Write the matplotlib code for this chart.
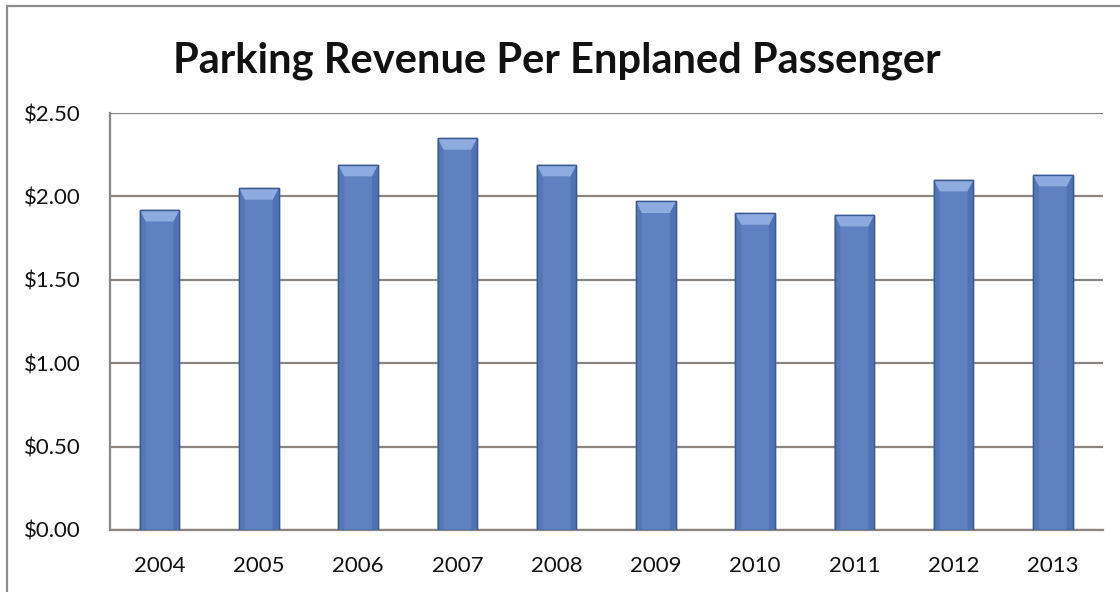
import matplotlib.pyplot as plt
from matplotlib.patches import Polygon, Rectangle
from matplotlib.ticker import FuncFormatter

years = ["2004", "2005", "2006", "2007", "2008", "2009", "2010", "2011", "2012", "2013"]
revenue = [1.92, 2.05, 2.19, 2.35, 2.19, 1.97, 1.90, 1.89, 2.10, 2.13]

plt.rcParams['font.family'] = ['Lato', 'DejaVu Sans']

fig = plt.figure(figsize=(11.2, 5.92), dpi=100)
fig.patch.set_facecolor('white')

# outer chart frame (right and bottom edges run off the canvas)
fig.patches.append(Rectangle((7 / 1120, -0.05), 1.2, 1.05 - 6 / 592,
                             transform=fig.transFigure, fill=False,
                             edgecolor='#8c8c8c', linewidth=1.6))

ax = fig.add_axes([110 / 1120, 62 / 592, 992.5 / 1120, 417 / 592])
x = list(range(len(years)))
bar_w = 0.40
ax.bar(x, revenue, width=bar_w, color='#5f81c1', edgecolor='#3c5a92',
       linewidth=1.0, zorder=3)

# bevelled highlight on the top of each bar
cap_h = 0.07
inset = 0.06
for xi, v in zip(x, revenue):
    l, r = xi - bar_w / 2, xi + bar_w / 2
    ax.add_patch(Polygon([(l, v), (l + inset, v - cap_h), (l + inset, 0), (l, 0)],
                         closed=True, facecolor='#5577b7', edgecolor='none', zorder=4))
    ax.add_patch(Polygon([(r, v), (r - inset, v - cap_h), (r - inset, 0), (r, 0)],
                         closed=True, facecolor='#5172b2', edgecolor='none', zorder=4))
    ax.add_patch(Polygon([(l, v), (r, v), (r - inset, v - cap_h), (l + inset, v - cap_h)],
                         closed=True, facecolor='#8eabdf', edgecolor='none', zorder=4))
    ax.add_patch(Rectangle((l, 0), bar_w, v, fill=False, edgecolor='#3c5a92',
                           linewidth=1.0, zorder=5))

ax.set_xlim(-0.5, len(years) - 0.5)
ax.set_ylim(0, 2.5)
ax.set_yticks([0, 0.5, 1.0, 1.5, 2.0, 2.5])
ax.yaxis.set_major_formatter(FuncFormatter(lambda v, p: f"${v:.2f}"))
ax.set_xticks(x)
ax.set_xticklabels(years)
ax.grid(axis='y', color='#8a8580', linewidth=1.6, zorder=1)
ax.tick_params(axis='both', length=0, labelsize=16, colors='#111111')
ax.tick_params(axis='x', pad=19)
ax.tick_params(axis='y', pad=21)

for side in ['top', 'right']:
    ax.spines[side].set_visible(False)
ax.spines['left'].set_color('#8a8580')
ax.spines['left'].set_linewidth(1.6)
ax.spines['bottom'].set_color('#8a8580')
ax.spines['bottom'].set_linewidth(1.6)

fig.text(0.497, 0.897, "Parking Revenue Per Enplaned Passenger", ha='center', va='center',
         fontsize=30, fontweight='bold', color='#111111')

fig.savefig("out.png", dpi=100)
